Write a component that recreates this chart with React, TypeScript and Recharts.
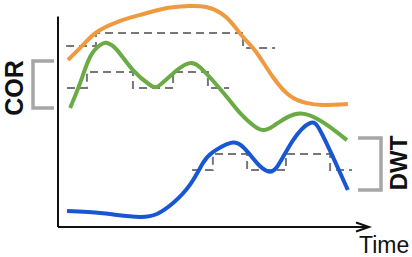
import { LineChart, Line, XAxis, YAxis, ReferenceLine, Customized } from "recharts";

// time runs 0..100 along the x axis, value 0..~106 up the y axis
const orangeT = [3.2, 8.7, 12.5, 19.0, 26.4, 35.0, 41.5, 47.6, 54.0, 59.5, 63.7, 69.1, 74.6, 79.7, 85.2, 93.2];
const orangeV = [79.4, 87.5, 92.7, 97.4, 100.8, 104.1, 105.0, 104.6, 99.8, 90.3, 83.2, 71.3, 62.3, 59.0, 58.0, 58.5];

const greenT = [3.9, 7.1, 10.3, 13.5, 15.8, 19.0, 24.1, 29.6, 32.8, 38.3, 42.4, 46.6, 54.3, 58.5, 64.0, 69.1, 77.8, 87.5, 92.9];
const greenV = [56.6, 68.4, 80.8, 86.5, 87.5, 84.1, 74.6, 67.5, 67.5, 74.6, 77.9, 74.6, 61.8, 54.2, 47.1, 47.8, 54.0, 47.5, 41.3];

const blueT = [2.9, 13.5, 19.0, 26.4, 31.8, 37.0, 42.4, 46.6, 49.8, 55.3, 59.5, 64.0, 67.2, 70.4, 75.6, 81.0, 84.2, 88.4, 93.2];
const blueV = [7.6, 6.7, 5.7, 4.8, 6.2, 11.4, 20.0, 30.4, 35.6, 39.9, 38.0, 30.4, 26.6, 28.5, 41.3, 49.4, 46.1, 33.3, 17.6];

// dashed step approximations
const corUpperT = [2.6, 12.2, 59.5, 69.8];
const corUpperV = [86.0, 92.2, 85.1, 85.1];
const corLowerT = [2.9, 9.3, 24.1, 37.0, 48.2, 55.0];
const corLowerV = [66.1, 73.7, 66.1, 73.7, 66.1, 66.1];
const dwtT = [43.1, 49.8, 60.8, 73.3, 87.5, 94.5];
const dwtV = [27.1, 34.7, 27.1, 34.7, 27.1, 27.1];

const zip = (t: number[], v: number[]) => t.map((x, i) => ({ t: x, v: v[i] }));

const W = 412;
const H = 257;
const ORANGE = "#ef9a3e";
const GREEN = "#6aab45";
const BLUE = "#1857d4";
const GRAY = "#a6a6a6";
const DASH = "#777";
const FONT = "'Liberation Sans', Arial, sans-serif";

function Annotations() {
  return (
    <g>
      {/* arrow head on the time axis */}
      <polyline points="356,222.5 369,227 356,231.5" fill="none" stroke="#111" strokeWidth={2} />
      <text x={359} y={253} fontSize={23} fontFamily={FONT} fill="#111">
        Time
      </text>
      {/* COR bracket */}
      <polyline points="54,61 33,61 33,108 54,108" fill="none" stroke={GRAY} strokeWidth={3.5} />
      <text
        x={23}
        y={88}
        transform="rotate(-90 23 88)"
        textAnchor="middle"
        fontSize={25}
        fontWeight="bold"
        fontFamily={FONT}
        fill="#111"
      >
        COR
      </text>
      {/* DWT bracket */}
      <polyline points="358,138 381,138 381,190 358,190" fill="none" stroke={GRAY} strokeWidth={3.5} />
      <text
        x={407}
        y={163}
        transform="rotate(-90 407 163)"
        textAnchor="middle"
        fontSize={24}
        fontWeight="bold"
        fontFamily={FONT}
        fill="#111"
      >
        DWT
      </text>
    </g>
  );
}

export default function App() {
  return (
    <div style={{ position: "absolute", left: 0, top: 0, width: W, height: H, background: "#fff" }}>
      <LineChart width={W} height={H} margin={{ top: 4, right: 43, bottom: 30, left: 58 }}>
        <XAxis type="number" dataKey="t" domain={[0, 100]} hide />
        <YAxis type="number" dataKey="v" domain={[0, 106]} hide />
        <ReferenceLine segment={[{ x: 0, y: 0 }, { x: 0, y: 100 }]} stroke="#111" strokeWidth={2} />
        <ReferenceLine segment={[{ x: 0, y: 0 }, { x: 100, y: 0 }]} stroke="#111" strokeWidth={2} />

        <Line data={zip(corUpperT, corUpperV)} dataKey="v" type="stepAfter" stroke={DASH} strokeWidth={2} strokeDasharray="8 5" dot={false} isAnimationActive={false} />
        <Line data={zip(corLowerT, corLowerV)} dataKey="v" type="stepAfter" stroke={DASH} strokeWidth={2} strokeDasharray="8 5" dot={false} isAnimationActive={false} />
        <Line data={zip(dwtT, dwtV)} dataKey="v" type="stepAfter" stroke={DASH} strokeWidth={2} strokeDasharray="8 5" dot={false} isAnimationActive={false} />

        <Line data={zip(orangeT, orangeV)} dataKey="v" type="natural" stroke={ORANGE} strokeWidth={4} dot={false} isAnimationActive={false} />
        <Line data={zip(greenT, greenV)} dataKey="v" type="natural" stroke={GREEN} strokeWidth={4} dot={false} isAnimationActive={false} />
        <Line data={zip(blueT, blueV)} dataKey="v" type="natural" stroke={BLUE} strokeWidth={4} dot={false} isAnimationActive={false} />

        <Customized component={Annotations} />
      </LineChart>
    </div>
  );
}
